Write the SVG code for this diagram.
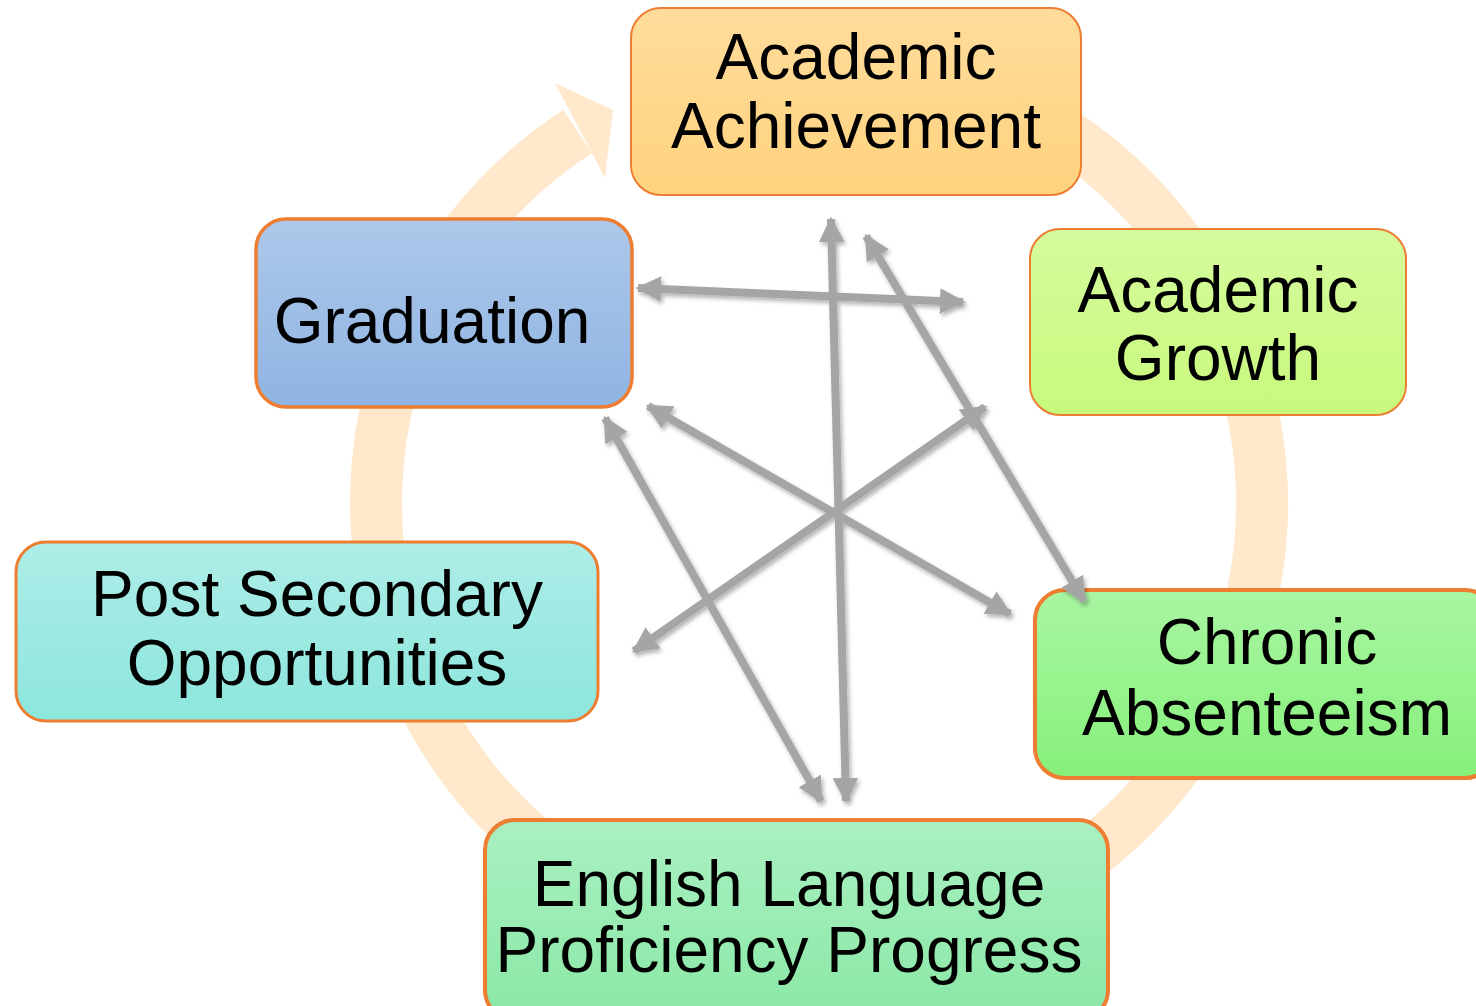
<svg xmlns="http://www.w3.org/2000/svg" width="1476" height="1006" viewBox="0 0 1476 1006">
<defs>
<style>
.lbl{font-family:"Liberation Sans",Arial,sans-serif;font-size:64px;fill:#000;text-anchor:middle}
.box{stroke:#ED7D31}
.conn{stroke:#A5A5A5;stroke-width:8;fill:none;marker-start:url(#ah);marker-end:url(#ah)}
</style>
<linearGradient id="gAch" x1="0" y1="0" x2="0" y2="1"><stop offset="0" stop-color="#FFDC9C"/><stop offset="1" stop-color="#FFD37E"/></linearGradient>
<linearGradient id="gGro" x1="0" y1="0" x2="0" y2="1"><stop offset="0" stop-color="#D6FB9E"/><stop offset="1" stop-color="#C8F97C"/></linearGradient>
<linearGradient id="gGra" x1="0" y1="0" x2="0" y2="1"><stop offset="0" stop-color="#AEC8EA"/><stop offset="1" stop-color="#8EB4E2"/></linearGradient>
<linearGradient id="gPost" x1="0" y1="0" x2="0" y2="1"><stop offset="0" stop-color="#AEEDE8"/><stop offset="1" stop-color="#8CE6DC"/></linearGradient>
<linearGradient id="gChr" x1="0" y1="0" x2="0" y2="1"><stop offset="0" stop-color="#A9F6A2"/><stop offset="1" stop-color="#86F07A"/></linearGradient>
<linearGradient id="gElp" x1="0" y1="0" x2="0" y2="1"><stop offset="0" stop-color="#AAF0C2"/><stop offset="1" stop-color="#8AE8A6"/></linearGradient>
<marker id="ah" viewBox="0 0 10 10" refX="9" refY="5" markerWidth="3.2" markerHeight="3.2" orient="auto-start-reverse">
<path d="M0,0 L10,5 L0,10 z" fill="#A5A5A5"/>
</marker>
<filter id="sh" x="-10%" y="-10%" width="120%" height="120%">
<feDropShadow dx="2" dy="3" stdDeviation="2" flood-color="#000" flood-opacity="0.3"/>
</filter>
</defs>
<g id="cycle">
<path d="M780.4,61.7 A443,443 0 1 1 577.7,131.5" fill="none" stroke="#FFE8CC" stroke-width="52"/>
<polygon points="555,83 613,110 605,178" fill="#FFE8CC"/>
</g>
<g id="node-achievement">
<rect class="box" x="631" y="8" width="450" height="187" rx="30" fill="url(#gAch)" stroke-width="2"/>
<text class="lbl" x="856" y="79">Academic</text>
<text class="lbl" x="856" y="148">Achievement</text>
</g>
<g id="node-growth">
<rect class="box" x="1030" y="229" width="376" height="186" rx="30" fill="url(#gGro)" stroke-width="2"/>
<text class="lbl" x="1218" y="312">Academic</text>
<text class="lbl" x="1218" y="380">Growth</text>
</g>
<g id="node-graduation">
<rect class="box" x="256" y="219" width="376" height="188" rx="30" fill="url(#gGra)" stroke-width="3.5"/>
<text class="lbl" x="432" y="343">Graduation</text>
</g>
<g id="node-postsecondary">
<rect class="box" x="16" y="542" width="582" height="179" rx="30" fill="url(#gPost)" stroke-width="3"/>
<text class="lbl" x="317" y="616">Post Secondary</text>
<text class="lbl" x="317" y="685">Opportunities</text>
</g>
<g id="node-chronic">
<rect class="box" x="1035" y="590" width="460" height="188" rx="30" fill="url(#gChr)" stroke-width="4"/>
<text class="lbl" x="1267" y="664">Chronic</text>
<text class="lbl" x="1267" y="735">Absenteeism</text>
</g>
<g id="node-elp">
<rect class="box" x="485" y="820" width="623" height="200" rx="30" fill="url(#gElp)" stroke-width="4"/>
<text class="lbl" x="789" y="906">English Language</text>
<text class="lbl" x="789" y="972">Proficiency Progress</text>
</g>
<g id="connectors" filter="url(#sh)">
<line class="conn" x1="638" y1="288" x2="963" y2="302"/>
<line class="conn" x1="831" y1="219" x2="846" y2="801"/>
<line class="conn" x1="866" y1="236" x2="1084" y2="601"/>
<line class="conn" x1="648" y1="406" x2="1010" y2="614"/>
<line class="conn" x1="605" y1="418" x2="821" y2="801"/>
<line class="conn" x1="985" y1="407" x2="634" y2="651"/>
</g>
</svg>
